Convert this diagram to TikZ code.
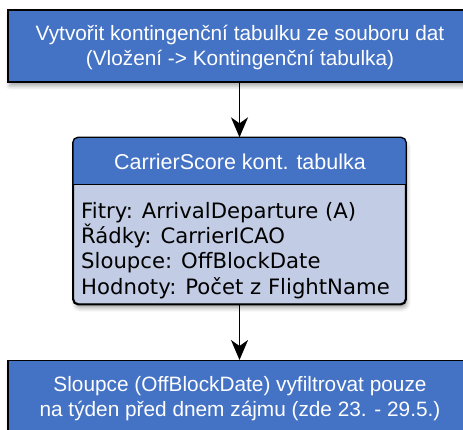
\documentclass[tikz,border=0pt]{standalone}
\usepackage{fontspec}
\setmainfont{Liberation Sans}
\newfontfamily\bodyfont{DejaVu Sans}
\usetikzlibrary{arrows.meta,shadows.blur}
\definecolor{stepblue}{RGB}{68,114,196}
\definecolor{steplight}{RGB}{194,204,229}
\tikzset{
  x=1pt, y=1pt,
  stepbox/.style={draw=black, line width=1.3pt, fill=stepblue, text=white,
    minimum width=464pt, inner sep=0pt,
    blur shadow={shadow xshift=1.5pt, shadow yshift=-4pt, shadow blur radius=4pt, shadow opacity=35}},
  tablebox/.style={draw=black, line width=1.3pt, fill=steplight, rounded corners=5pt,
    minimum width=332pt, minimum height=166pt, inner sep=0pt,
    blur shadow={shadow xshift=1.5pt, shadow yshift=-4pt, shadow blur radius=4pt, shadow opacity=35}},
  steptext/.style={text=white, align=center, font=\fontsize{20.8}{24.5}\selectfont, inner sep=0pt},
  bodytext/.style={text=black, align=left, font=\bodyfont\fontsize{21.2}{25.3}\selectfont, inner sep=0pt},
  flow/.style={line width=1.4pt, -{Stealth[length=20pt, width=17pt, inset=6pt]}},
}
\begin{document}
\begin{tikzpicture}
\useasboundingbox (0,0) rectangle (463,430);
\clip (0,0) rectangle (463,430);

% first step
\node[stepbox, minimum height=72pt] (create) at (240,384) {};
\node[steptext] (createtxt) at (240,382.5) {Vytvořit kontingenční tabulku ze souboru dat\\(Vložení -> Kontingenční tabulka)};

% pivot table description
\node[tablebox] (table) at (239.5,209) {};
\begin{scope}
  \clip[rounded corners=5pt] (table.south west) rectangle (table.north east);
  \fill[stepblue] (table.north west) rectangle ([yshift=-47pt]table.north east);
\end{scope}
\draw[line width=1.3pt, rounded corners=5pt] (table.south west) rectangle (table.north east);
\draw[line width=1.2pt] ([yshift=-47pt]table.north west) -- ([yshift=-47pt]table.north east);
\node[steptext, font=\fontsize{21.5}{24.5}\selectfont] (tabletitle) at (240,268) {CarrierScore kont. tabulka};
\node[bodytext, anchor=north west] (tablebody) at (81,228) {Fitry: ArrivalDeparture (A)\\Řádky: CarrierICAO\\Sloupce: OffBlockDate\\Hodnoty: Počet z FlightName};

% filtering step
\node[stepbox, minimum height=80pt, anchor=north] (filter) at (240,70) {};
\node[steptext] (filtertxt) at (240,31.5) {Sloupce (OffBlockDate) vyfiltrovat pouze\\na týden před dnem zájmu (zde 23. - 29.5.)};

% connectors
\draw[flow] (create.south -| table.north) -- (table.north);
\draw[flow] (table.south) -- (table.south |- filter.north);
\end{tikzpicture}
\end{document}
